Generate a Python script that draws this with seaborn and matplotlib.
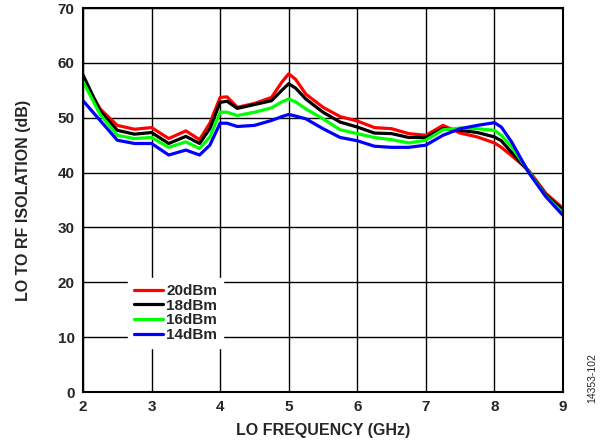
import seaborn as sns
import matplotlib.pyplot as plt
import pandas as pd

# LO to RF isolation vs LO frequency
freq = [2.0, 2.25, 2.5, 2.75, 3.0, 3.25, 3.5, 3.7, 3.85, 4.0, 4.1, 4.25, 4.5, 4.75,
        4.9, 5.0, 5.1, 5.25, 5.5, 5.75, 6.0, 6.25, 6.5, 6.75, 7.0, 7.25, 7.5, 7.75,
        8.0, 8.1, 8.25, 8.5, 8.75, 9.0]

iso_20dbm = [57.0, 51.6, 48.6, 47.9, 48.2, 46.2, 47.6, 46.0, 49.0, 53.7, 53.8, 51.9, 52.6, 53.7,
             56.5, 58.0, 57.0, 54.3, 51.9, 50.2, 49.4, 48.2, 48.0, 47.1, 46.8, 48.6, 47.2, 46.5,
             45.4, 44.6, 43.1, 40.4, 36.2, 33.5]
iso_18dbm = [57.8, 51.2, 47.7, 47.0, 47.3, 45.3, 46.6, 45.3, 48.0, 52.8, 53.0, 51.7, 52.4, 53.1,
             55.0, 56.2, 55.4, 53.4, 51.0, 49.2, 48.3, 47.2, 47.1, 46.4, 46.4, 48.0, 47.7, 47.3,
             46.5, 45.8, 43.7, 40.2, 35.9, 33.1]
iso_16dbm = [56.6, 50.6, 46.8, 46.2, 46.4, 44.6, 45.6, 44.4, 46.5, 51.0, 51.0, 50.4, 51.0, 51.8,
             52.9, 53.4, 52.9, 51.6, 49.8, 47.8, 47.1, 46.4, 46.0, 45.4, 45.9, 47.8, 48.1, 48.0,
             47.7, 46.8, 44.7, 40.2, 35.7, 32.6]
iso_14dbm = [53.1, 49.5, 45.9, 45.3, 45.3, 43.2, 44.1, 43.2, 45.0, 49.0, 49.0, 48.4, 48.6, 49.5,
             50.2, 50.6, 50.3, 49.8, 48.0, 46.4, 45.8, 44.8, 44.6, 44.6, 45.0, 46.8, 48.0, 48.6,
             49.1, 48.3, 45.6, 40.0, 35.6, 32.2]

series_names = ["20dBm", "18dBm", "16dBm", "14dBm"]
series_colors = ["#ff0000", "#000000", "#00ff00", "#0000ff"]

df = pd.concat([
    pd.DataFrame({"freq": freq, "iso": vals, "level": name})
    for name, vals in zip(series_names, [iso_20dbm, iso_18dbm, iso_16dbm, iso_14dbm])
])

sns.set_style("white")
plt.rcParams["font.family"] = ["Liberation Sans", "DejaVu Sans"]
plt.rcParams["font.weight"] = "bold"
plt.rcParams["lines.solid_joinstyle"] = "round"
plt.rcParams["lines.solid_capstyle"] = "round"

fig = plt.figure(figsize=(6.03, 4.47), dpi=100)
ax = fig.add_axes([83 / 603, 55 / 447, 480 / 603, 384 / 447])

sns.lineplot(data=df, x="freq", y="iso", hue="level", hue_order=series_names,
             palette=series_colors, linewidth=2.3, ax=ax, legend=True)

ax.set_xlim(2, 9)
ax.set_ylim(0, 70)
ax.set_xticks(range(2, 10))
ax.set_yticks(range(0, 71, 10))
ax.grid(True, color="black", linewidth=1.0)
ax.set_axisbelow(True)
for s in ax.spines.values():
    s.set_color("black")
    s.set_linewidth(1.5)
ax.tick_params(length=0, labelsize=11, pad=6)
for lab in ax.get_xticklabels() + ax.get_yticklabels():
    lab.set_fontweight("bold")

ax.set_xlabel("LO FREQUENCY (GHz)", fontsize=11.5, fontweight="bold", labelpad=6)
ax.set_ylabel("LO TO RF ISOLATION (dB)", fontsize=11.5, fontweight="bold", labelpad=19)

leg = ax.legend(loc="lower left", bbox_to_anchor=(0.078, 0.094), frameon=True,
                fancybox=False, framealpha=1, edgecolor="white", fontsize=11,
                handlelength=1.9, handletextpad=0.2, labelspacing=0.05,
                borderpad=0.4, title=None)
for t in leg.get_texts():
    t.set_fontweight("bold")

fig.text(0.982, 0.155, "14353-102", rotation=90, fontsize=7.5, fontweight="normal",
         ha="center", va="center")

fig.savefig("out.png", dpi=100)
